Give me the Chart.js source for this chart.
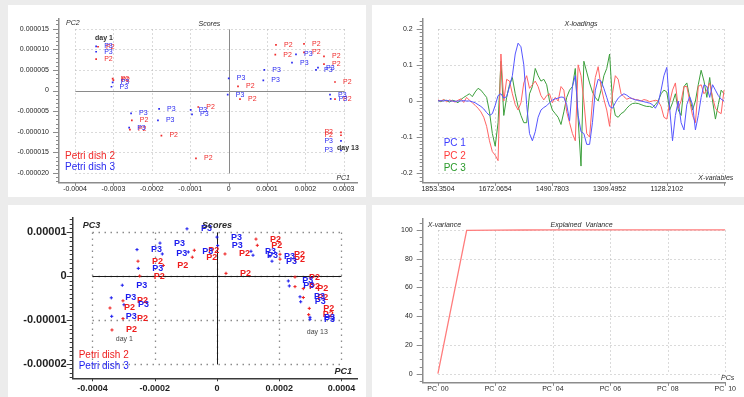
<!DOCTYPE html>
<html>
<head>
<meta charset="utf-8">
<script src="https://cdn.jsdelivr.net/npm/chart.js@4.4.0/dist/chart.umd.min.js"></script>
<style>
  body { margin: 0; background: #ececec; width: 744px; height: 397px; overflow: hidden; position: relative; }
  canvas { position: absolute; background: #fff; }
</style>
</head>
<body>
<canvas id="scores12" width="358" height="192" style="left:8px;top:5px"></canvas>
<canvas id="loadings" width="372" height="192" style="left:372px;top:5px"></canvas>
<canvas id="scores13" width="358" height="192" style="left:8px;top:205px"></canvas>
<canvas id="variance" width="372" height="192" style="left:372px;top:205px"></canvas>
<script>
// ---- scores PC1 / PC2 (top left) ----
const dish2PC1 = [-3.40e-4, -3.45e-4, -3.02e-4, -3.00e-4, -2.52e-4, -2.57e-4, -1.75e-4, -7.9e-5, -8.5e-5,
  1.234e-4, 1.964e-4, 1.216e-4, 1.964e-4, 2.484e-4, 2.484e-4, 2.771e-4, 2.45e-5, 2.97e-5, 2.771e-4, 2.927e-4, 2.927e-4];
const dish2PC2 = [1.06e-5, 7.6e-6, 2.88e-6, 2.53e-6, -7.21e-6, -9.45e-6, -1.09e-5, -3.99e-6, -1.643e-5,
  1.106e-5, 1.129e-5, 8.69e-6, 9.22e-6, 8.29e-6, 6.38e-6, 2.07e-6, 9.9e-7, -2.07e-6, -2.07e-6, -1.014e-5, -1.083e-5];
const dish3PC1 = [-3.45e-4, -3.45e-4, -3.02e-4, -3.05e-4, -2.54e-4, -2.59e-4, -1.81e-4, -1.84e-4, -9.87e-5, -9.53e-5,
  1.755e-4, 1.651e-4, 2.276e-4, 2.328e-4, 9.3e-5, 9.04e-5, 3e-7, -2.3e-6, 2.641e-4, 2.659e-4, 2.927e-4, 2.927e-4];
const dish3PC2 = [1.07e-5, 9.4e-6, 1.96e-6, 9.2e-7, -5.53e-6, -8.99e-6, -4.45e-6, -7.21e-6, -4.68e-6, -5.76e-6,
  8.76e-6, 6.75e-6, 5.0e-6, 5.53e-6, 5.0e-6, 2.47e-6, 2.93e-6, -9.9e-7, -9.9e-7, -2.0e-6, -1.221e-5, -1.452e-5];
const scoreXTicks = [-0.0004, -0.0003, -0.0002, -0.0001, 0, 0.0001, 0.0002, 0.0003];
const scoreXLabels = ['-0.0004', '-0.0003', '-0.0002', '-0.0001', '0', '0.0001', '0.0002', '0.0003'];
const scoreYTicks = [0.000015, 0.00001, 0.000005, 0, -0.000005, -0.00001, -0.000015, -0.00002];
const scoreYLabels = ['0.000015', '0.000010', '0.000005', '0', '-0.000005', '-0.000010', '-0.000015', '-0.000020'];

// ---- X-loadings (top right), one value per variable ----
const loadPC1 = [0, 0.001, 0, 0.002, 0, 0, -0.001, 0, 0, 0.001, 0,
  0, -0.002, -0.005, -0.01, -0.015, -0.022, -0.032, -0.04, -0.035, -0.012,
  0.015, 0.02, 0.008, 0.012, 0.04, 0.07, 0.13, 0.16, 0.15, 0.1,
  -0.01, -0.09, -0.11, -0.085, -0.045, -0.025, -0.018, -0.013, -0.005, 0.003,
  0.006, 0.008, 0.011, 0.01, -0.01, -0.055, 0.04, 0.07, -0.04, -0.085,
  -0.09, -0.12, -0.12, -0.06, 0.03, 0.06, 0.055, 0.035, 0.01, -0.015,
  -0.02, -0.005, 0.008, 0.015, 0.02, 0.016, 0.01, 0.006, 0.003, 0.002,
  0, -0.002, -0.004, -0.006, -0.01, -0.02, -0.005, 0.03, 0.07, 0.093,
  -0.02, -0.11, -0.04, 0, -0.06, -0.08, -0.01, 0.012, -0.01, -0.08,
  -0.04, 0.01, 0.045, 0.04, 0.01, 0.045, 0.03, 0.015, 0.005, 0];
const loadPC2 = [0.003, 0, 0.004, -0.002, 0.003, 0, -0.003, 0.002, 0.006, -0.004, 0.01,
  0.002, -0.005, -0.012, -0.02, -0.03, -0.045, -0.07, -0.11, -0.14, -0.15,
  -0.165, 0.13, 0, 0.06, 0.055, 0.02, -0.01, -0.025, -0.005, 0.05,
  0.07, 0.035, 0.045, 0.055, 0.04, 0.015, 0.003, 0.015, 0.02, -0.005,
  0.01, 0, 0.04, 0.03, -0.03, -0.06, -0.09, -0.11, 0.1, 0.07,
  0, -0.09, -0.1, 0, 0.065, 0.095, 0.04, 0.005, -0.025, -0.07,
  0.02, 0.07, 0.06, 0.02, 0.012, 0.005, 0.008, 0.007, 0.004, 0.003,
  0, 0.004, 0.002, -0.002, 0, 0.002, 0, -0.015, -0.045, -0.05,
  -0.005, 0.03, 0.05, -0.02, 0, 0.04, 0.04, 0, -0.04, -0.06,
  0.04, 0.045, 0.02, 0.03, 0.05, 0.01, -0.02, -0.03, -0.035, 0.03];
const loadPC3 = [0.002, -0.002, 0.003, 0.001, -0.003, 0.002, 0, -0.005, 0.004, 0.01, 0.015,
  0.02, 0.012, 0.025, 0.035, 0.03, 0.02, 0.01, -0.03, -0.09, -0.125,
  -0.06, 0.11, -0.04, 0.01, 0.045, 0.065, 0.02, -0.015, -0.04, -0.06,
  -0.06, 0.02, 0.04, 0.09, 0.07, 0.055, 0.06, 0.045, 0, -0.025,
  -0.035, -0.045, -0.065, -0.03, 0.01, 0.03, 0.04, 0.09, -0.05, -0.18,
  0.11, 0.08, 0.05, 0.025, 0.01, 0, 0.03, 0.07, 0.09, 0.13,
  0, -0.04, -0.045, -0.035, -0.03, -0.02, -0.012, -0.007, -0.006, -0.007,
  -0.01, -0.013, -0.015, -0.015, -0.018, -0.01, 0, 0.02, 0.03, 0.025,
  -0.025, -0.005, 0.02, -0.025, -0.04, 0.04, 0.05, 0.01, -0.025, 0,
  0.045, 0.085, 0.055, 0.01, 0.065, 0, -0.05, -0.01, 0.03, 0.02];
const loadXTicks = [0, 20, 40, 60, 80, 100];
const loadXLabels = ['1853.3504', '1672.0654', '1490.7803', '1309.4952', '1128.2102', ''];
const loadYTicks = [0.2, 0.1, 0, -0.1, -0.2];
const loadYLabels = ['0.2', '0.1', '0', '-0.1', '-0.2'];

// ---- scores PC1 / PC3 (bottom left) ----
const dish2PC1b = [-2.538e-4, -2.484e-4, -1.725e-4, -7.29e-5, -7.94e-5, -3.438e-4, -3.374e-4, -3.02e-4, -3.02e-4,
  2.57e-5, 2.89e-5, 1.253e-4, 1.295e-4, 2.024e-4, 2.024e-4, 2.506e-4, 2.506e-4, 2.773e-4, 2.773e-4, 2.965e-4, 2.946e-4];
const dish2PC3 = [3.45e-6, 7e-8, 2.48e-6, 5.94e-6, 4.36e-6, -7.22e-6, -1.223e-5, -5.58e-6, -9.64e-6,
  5.1e-6, 6.8e-7, 8.49e-6, 7.07e-6, 5.03e-6, 3.91e-6, -1.6e-7, -2.35e-6, -2.8e-6, -4.83e-6, -7.31e-6, -8.74e-6];
const dish3PC1b = [-9.64e-5, -1.831e-4, -1.757e-4, -9.22e-5, -2.57e-4, -2.529e-4, -3.043e-4, -3.396e-4, -2.988e-4, -3.383e-4,
  0, 2.2e-6, 1.092e-4, 1.157e-4, 1.703e-4, 1.767e-4, 2.291e-4, 2.323e-4, 2.667e-4, 2.689e-4, 2.988e-4, 2.988e-4];
const dish3PC3 = [1.083e-5, 7.58e-6, 5.1e-6, 5.55e-6, 6.09e-6, 1.81e-6, -2.03e-6, -4.9e-6, -6.48e-6, -9.12e-6,
  8.94e-6, 7.0e-6, 5.71e-6, 4.81e-6, 4.58e-6, 3.45e-6, -1.06e-6, -2.19e-6, -4.67e-6, -5.8e-6, -9.35e-6, -9.8e-6];
const pc13XTicks = [-0.0004, -0.0002, 0, 0.0002, 0.0004];
const pc13XLabels = ['-0.0004', '-0.0002', '0', '0.0002', '0.0004'];
const pc13YTicks = [0.00001, 0, -0.00001, -0.00002];
const pc13YLabels = ['0.00001', '0', '-0.00001', '-0.00002'];

// ---- explained variance (bottom right) ----
const explained = [0, 99.6, 99.8, 99.9, 99.95, 100, 100, 100, 100, 100, 100];
const varXTicks = [0, 2, 4, 6, 8, 10];
const varXLabels = ['PC_00', 'PC_02', 'PC_04', 'PC_06', 'PC_08', 'PC_10'];
const varYTicks = [0, 20, 40, 60, 80, 100];
const varYLabels = ['0', '20', '40', '60', '80', '100'];

const RED = '#f02a2a', BLUE = '#2a2af0';
const FONT = '"Liberation Sans", Arial, sans-serif';
Chart.defaults.font.family = FONT;

function pairs(xs, ys) { return xs.map((v, i) => ({ x: v, y: ys[i] })); }

// scale with fixed ticks and a forced size, so the plot area sits where the original does
function makeScale(min, max, vals, labels, font, pad, size, horizontal, border) {
  return {
    type: 'linear', min: min, max: max,
    grid: { display: false, drawTicks: false },
    border: { display: true, color: border[0], width: border[1] },
    afterBuildTicks: s => { s.ticks = vals.map(v => ({ value: v })); },
    afterFit: s => { if (horizontal) s.height = size; else s.width = size; },
    ticks: { autoSkip: false, maxRotation: 0, padding: pad, font: font, color: '#1e1e1e',
      callback: (v, i) => labels[i] }
  };
}

// dotted grid over the tick range, zero lines, tick marks, point tags and texts
const panelPlugin = {
  id: 'panel',
  beforeDatasetsDraw(chart, args, o) {
    const { ctx, chartArea: a, scales: { x, y } } = chart;
    const xt = x.ticks.map(t => Math.round(x.getPixelForValue(t.value)) + 0.5);
    const yt = y.ticks.map(t => Math.round(y.getPixelForValue(t.value)) + 0.5);
    const x0 = Math.min(...xt), x1 = Math.max(...xt), y0 = Math.min(...yt), y1 = Math.max(...yt);
    ctx.save();
    ctx.strokeStyle = o.gridColor; ctx.lineWidth = o.gridWidth; ctx.setLineDash(o.dash);
    ctx.beginPath();
    xt.forEach(px => { ctx.moveTo(px, y0); ctx.lineTo(px, y1); });
    yt.forEach(py => { ctx.moveTo(x0, py); ctx.lineTo(x1, py); });
    ctx.stroke();
    ctx.setLineDash([]);
    if (o.zeroColor) {
      const zx = Math.round(x.getPixelForValue(0)) + 0.5, zy = Math.round(y.getPixelForValue(0)) + 0.5;
      ctx.strokeStyle = o.zeroColor; ctx.lineWidth = 1;
      ctx.beginPath();
      ctx.moveTo(x0, zy); ctx.lineTo(x1, zy);
      ctx.moveTo(zx, y0); ctx.lineTo(zx, y1);
      ctx.stroke();
    }
    // tick marks
    ctx.strokeStyle = o.axisColor; ctx.lineWidth = 1;
    ctx.beginPath();
    const k0 = Math.ceil(y.min / o.minor - 1e-6), k1 = Math.floor(y.max / o.minor + 1e-6);
    for (let k = k0; k <= k1; k++) {
      const v = k * o.minor;
      const r = v / o.major;
      const len = Math.abs(r - Math.round(r)) < 1e-6 ? 6 : 3;
      const py = Math.round(y.getPixelForValue(v)) + 0.5;
      ctx.moveTo(a.left - len, py); ctx.lineTo(a.left, py);
    }
    xt.forEach(px => { ctx.moveTo(px, a.bottom); ctx.lineTo(px, a.bottom + 3); });
    ctx.stroke();
    ctx.restore();
  },
  afterDatasetsDraw(chart, args, o) {
    const { ctx, chartArea: a, scales: { x, y } } = chart;
    ctx.save();
    ctx.textBaseline = 'middle';
    if (o.tagFont) {
      ctx.font = o.tagFont;
      chart.data.datasets.forEach((ds, di) => {
        ctx.fillStyle = ds.tagColor;
        chart.getDatasetMeta(di).data.forEach(pt => {
          if (pt.x > a.right - o.flip) { ctx.textAlign = 'right'; ctx.fillText(ds.tag, pt.x - o.tagGap, pt.y); }
          else { ctx.textAlign = 'left'; ctx.fillText(ds.tag, pt.x + o.tagGap, pt.y); }
        });
      });
    }
    (o.texts || []).forEach(t => {
      const p = t.at(a, v => x.getPixelForValue(v), v => y.getPixelForValue(v));
      ctx.font = t.font + ' ' + FONT;
      ctx.fillStyle = t.color || '#2a2a2a';
      ctx.textAlign = t.align || 'left';
      ctx.fillText(t.text, p[0], p[1]);
    });
    ctx.restore();
  }
};

const base = { responsive: false, animation: false, events: [] };
const gray = ['#8c8c8c', 1.5];

// top left: scores PC1/PC2
new Chart(document.getElementById('scores12'), {
  type: 'scatter',
  data: { datasets: [
    { label: 'Petri dish 2', tag: 'P2', tagColor: RED, data: pairs(dish2PC1, dish2PC2),
      backgroundColor: RED, borderWidth: 0, pointStyle: 'rect', pointRadius: 1.2 },
    { label: 'Petri dish 3', tag: 'P3', tagColor: BLUE, data: pairs(dish3PC1, dish3PC2),
      backgroundColor: BLUE, borderWidth: 0, pointStyle: 'rect', pointRadius: 1.2 }
  ] },
  options: Object.assign({}, base, {
    layout: { padding: { top: 10, right: 9, left: 0, bottom: 0 } },
    scales: {
      x: makeScale(-0.0004417, 0.0003344, scoreXTicks, scoreXLabels, { size: 7 }, 2, 10, true, gray),
      y: makeScale(-2.235e-5, 1.728e-5, scoreYTicks, scoreYLabels, { size: 7 }, 10, 51, false, gray)
    },
    plugins: {
      legend: { display: false }, tooltip: { enabled: false },
      panel: {
        gridColor: '#b4b4b4', gridWidth: 1, dash: [1, 3], zeroColor: '#8a8a8a', axisColor: '#8c8c8c',
        minor: 1e-6, major: 5e-6, tagFont: '7px ' + FONT, tagGap: 8, flip: 20,
        texts: [
          { text: 'PC2', font: 'italic 7px', align: 'left', at: a => [a.left + 7, a.top + 4] },
          { text: 'Scores', font: 'italic 7px', align: 'center', at: (a, sx) => [sx(-0.00005), a.top + 5] },
          { text: 'PC1', font: 'italic 7px', align: 'right', at: a => [a.right - 7, a.bottom - 5] },
          { text: 'Petri dish 2', font: '10px', color: RED, at: a => [a.left + 6, a.bottom - 27] },
          { text: 'Petri dish 3', font: '10px', color: BLUE, at: a => [a.left + 6, a.bottom - 16] },
          { text: 'day 1', font: 'bold 7px', color: '#333', align: 'center', at: (a, sx, sy) => [sx(-0.0003245), sy(1.267e-5)] },
          { text: 'day 13', font: 'bold 7px', color: '#333', at: (a, sx, sy) => [sx(0.0002823), sy(-1.405e-5)] }
        ]
      }
    }
  }),
  plugins: [panelPlugin]
});

// top right: X-loadings
const lineSet = (label, vals, color) => ({
  label: label, data: vals.map((v, i) => ({ x: i, y: v })),
  borderColor: color, borderWidth: 1, pointRadius: 0, tension: 0, fill: false
});
new Chart(document.getElementById('loadings'), {
  type: 'line',
  data: { datasets: [
    lineSet('PC 1', loadPC1, '#5656ff'),
    lineSet('PC 2', loadPC2, '#ff6464'),
    lineSet('PC 3', loadPC3, '#3c9f3c')
  ] },
  options: Object.assign({}, base, {
    layout: { padding: { top: 10, right: 18.7, left: 0, bottom: 0 } },
    scales: {
      x: makeScale(-5.35, 100.45, loadXTicks, loadXLabels, { size: 7 }, 2, 10, true, gray),
      y: makeScale(-0.2263, 0.2263, loadYTicks, loadYLabels, { size: 7 }, 10, 50.7, false, gray)
    },
    plugins: {
      legend: { display: false }, tooltip: { enabled: false },
      panel: {
        gridColor: '#b4b4b4', gridWidth: 1, dash: [1, 3], axisColor: '#8c8c8c', minor: 0.01, major: 0.1,
        texts: [
          { text: 'X-loadings', font: 'italic 7px', align: 'center', at: (a, sx) => [sx(50), a.top + 5] },
          { text: 'X-variables', font: 'italic 7px', align: 'right', at: a => [a.right + 8, a.bottom - 5] },
          { text: 'PC 1', font: '10px', color: '#3a3aff', at: a => [a.left + 21, a.bottom - 40] },
          { text: 'PC 2', font: '10px', color: '#ff3a3a', at: a => [a.left + 21, a.bottom - 27] },
          { text: 'PC 3', font: '10px', color: '#2a9a2a', at: a => [a.left + 21, a.bottom - 15] }
        ]
      }
    }
  }),
  plugins: [panelPlugin]
});

// bottom left: scores PC1/PC3
const RED2 = '#ee1c1c', BLUE2 = '#1c1cee';
new Chart(document.getElementById('scores13'), {
  type: 'scatter',
  data: { datasets: [
    { label: 'Petri dish 2', tag: 'P2', tagColor: RED2, data: pairs(dish2PC1b, dish2PC3),
      borderColor: RED2, borderWidth: 1, pointStyle: 'cross', pointRadius: 1.6 },
    { label: 'Petri dish 3', tag: 'P3', tagColor: BLUE2, data: pairs(dish3PC1b, dish3PC3),
      borderColor: BLUE2, borderWidth: 1, pointStyle: 'cross', pointRadius: 1.6 }
  ] },
  options: Object.assign({}, base, {
    layout: { padding: { top: 11, right: 9, left: 0, bottom: 0 } },
    scales: {
      x: makeScale(-4.636e-4, 4.498e-4, pc13XTicks, pc13XLabels, { size: 9, weight: 'bold' }, 5, 18.7, true, ['#3a3a3a', 1.5]),
      y: makeScale(-2.325e-5, 1.339e-5, pc13YTicks, pc13YLabels, { size: 11, weight: 'bold' }, 6, 64.7, false, ['#3a3a3a', 1.5])
    },
    plugins: {
      legend: { display: false }, tooltip: { enabled: false },
      panel: {
        gridColor: '#8c8c8c', gridWidth: 1.3, dash: [1.5, 4.5], zeroColor: '#1a1a1a', axisColor: '#3a3a3a',
        minor: 1e-6, major: 1e-5, tagFont: 'bold 9px ' + FONT, tagGap: 14, flip: 0,
        texts: [
          { text: 'PC3', font: 'bold italic 9px', align: 'left', at: a => [a.left + 10, a.top + 8] },
          { text: 'Scores', font: 'bold italic 9px', align: 'center', at: (a, sx) => [sx(0), a.top + 8] },
          { text: 'PC1', font: 'bold italic 9px', align: 'right', at: a => [a.right - 5, a.bottom - 7] },
          { text: 'Petri dish 2', font: '10px', color: RED2, at: a => [a.left + 6, a.bottom - 22.6] },
          { text: 'Petri dish 3', font: '10px', color: BLUE2, at: a => [a.left + 6, a.bottom - 11.6] },
          { text: 'day 1', font: '7px', color: '#444', align: 'center', at: (a, sx, sy) => [sx(-2.978e-4), sy(-1.422e-5)] },
          { text: 'day 13', font: '7px', color: '#444', align: 'center', at: (a, sx, sy) => [sx(3.223e-4), sy(-1.273e-5)] }
        ]
      }
    }
  }),
  plugins: [panelPlugin]
});

// bottom right: explained variance
new Chart(document.getElementById('variance'), {
  type: 'line',
  data: { datasets: [
    { label: 'Explained Variance', data: explained.map((v, i) => ({ x: i, y: v })),
      borderColor: '#ff7c7c', borderWidth: 1.3, pointRadius: 0, tension: 0, fill: false }
  ] },
  options: Object.assign({}, base, {
    layout: { padding: { top: 10, right: 18.7, left: 0, bottom: 0 } },
    scales: {
      x: makeScale(-0.53, 10, varXTicks, varXLabels, { size: 7 }, 2, 8, true, gray),
      y: makeScale(-6.3, 107.4, varYTicks, varYLabels, { size: 7 }, 10, 50.7, false, gray)
    },
    plugins: {
      legend: { display: false }, tooltip: { enabled: false },
      panel: {
        gridColor: '#b4b4b4', gridWidth: 1, dash: [1, 3], axisColor: '#8c8c8c', minor: 5, major: 20,
        texts: [
          { text: 'X-variance', font: 'italic 7px', align: 'left', at: a => [a.left + 5, a.top + 6] },
          { text: 'Explained  Variance', font: 'italic 7px', align: 'center', at: (a, sx) => [sx(5), a.top + 6] },
          { text: 'PCs', font: 'italic 7px', align: 'right', at: a => [a.right + 9, a.bottom - 5] }
        ]
      }
    }
  }),
  plugins: [panelPlugin]
});
</script>
</body>
</html>
